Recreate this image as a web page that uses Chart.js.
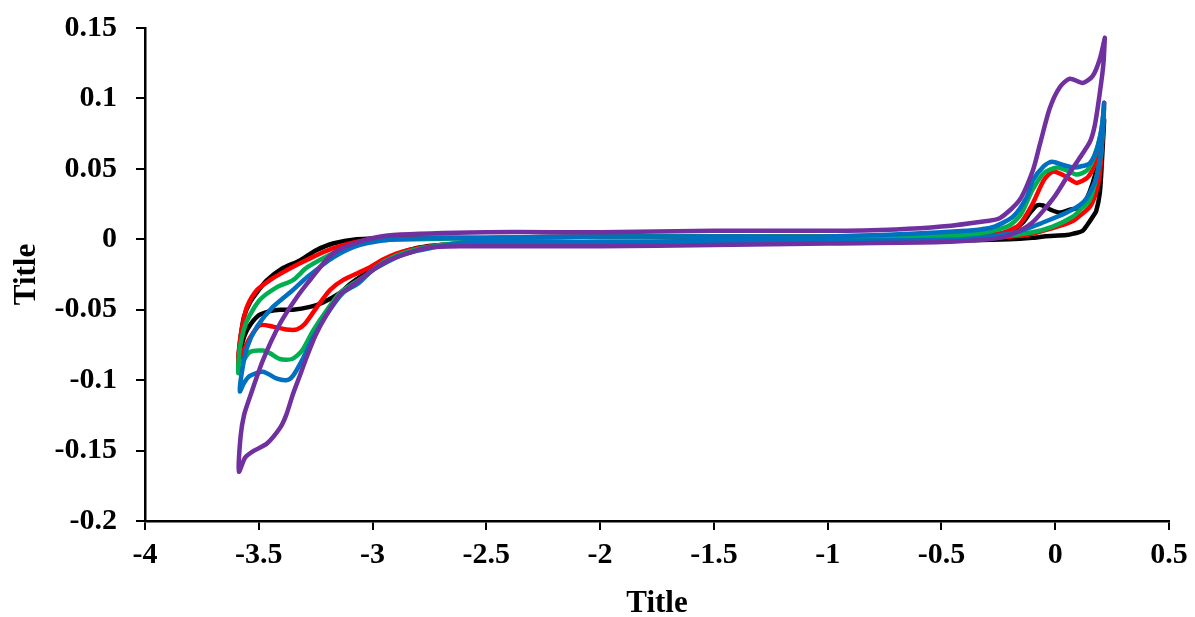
<!DOCTYPE html>
<html>
<head>
<meta charset="utf-8">
<script src="https://cdn.jsdelivr.net/npm/chart.js@4.4.1/dist/chart.umd.min.js"></script>
<style>
  html, body { margin: 0; padding: 0; background: #fff; }
  #wrap { width: 1195px; height: 617px; }
</style>
</head>
<body>
<div id="wrap"><canvas id="cv" width="1195" height="617"></canvas></div>
<script>
// Axis ticks
const xTickLabels = ['-4', '-3.5', '-3', '-2.5', '-2', '-1.5', '-1', '-0.5', '0', '0.5'];
const yTickLabels = ['-0.2', '-0.15', '-0.1', '-0.05', '0', '0.05', '0.1', '0.15'];

// Each loop: [potential, current]
const blackLoop = [
    [0.215, 0.085], [0.205, 0.055], [0.196, 0.033], [0.18, 0.02], [0.165, 0.016], [0.14, 0.01],
    [0.12, 0.006], [0.08, 0.004], [0.05, 0.003], [-0.05, 0.002], [-0.1, 0.001], [-0.2, 0.0],
    [-0.5, -0.001], [-1.0, -0.001], [-1.5, -0.002], [-2.0, -0.002], [-2.5, -0.003], [-2.7, -0.004],
    [-2.8, -0.006], [-2.88, -0.01], [-2.95, -0.017], [-3.02, -0.023], [-3.1, -0.032], [-3.143, -0.038],
    [-3.22, -0.045], [-3.275, -0.048], [-3.35, -0.05], [-3.407, -0.05], [-3.45, -0.051], [-3.5, -0.054],
    [-3.55, -0.064], [-3.575, -0.075], [-3.59, -0.088],
    [-3.58, -0.07], [-3.565, -0.055], [-3.539, -0.045], [-3.5, -0.036], [-3.464, -0.029], [-3.4, -0.021],
    [-3.319, -0.015], [-3.25, -0.008], [-3.174, -0.003], [-3.07, 0.0], [-2.9, 0.001], [-2.5, 0.001],
    [-2.0, 0.002], [-1.5, 0.002], [-1.0, 0.002], [-0.5, 0.002], [-0.3, 0.003], [-0.2, 0.005],
    [-0.142, 0.012], [-0.11, 0.019], [-0.081, 0.024], [-0.054, 0.024], [-0.02, 0.021], [0.02, 0.019],
    [0.064, 0.021], [0.095, 0.022], [0.12, 0.025], [0.139, 0.029], [0.165, 0.04], [0.19, 0.055],
    [0.205, 0.07], [0.215, 0.085]
];

const redLoop = [
    [0.215, 0.097], [0.205, 0.065], [0.195, 0.045], [0.175, 0.031], [0.152, 0.023], [0.11, 0.017],
    [0.077, 0.013], [0.03, 0.01], [-0.011, 0.008], [-0.125, 0.003], [-0.3, 0.001], [-0.5, 0.0],
    [-1.0, -0.001], [-1.5, -0.002], [-2.0, -0.002], [-2.5, -0.002], [-2.7, -0.004], [-2.85, -0.008],
    [-2.95, -0.014], [-3.025, -0.021], [-3.13, -0.029], [-3.187, -0.036], [-3.244, -0.048], [-3.297, -0.06],
    [-3.332, -0.064], [-3.38, -0.064], [-3.438, -0.062], [-3.495, -0.061], [-3.539, -0.07], [-3.57, -0.08],
    [-3.59, -0.088],
    [-3.585, -0.075], [-3.574, -0.063], [-3.552, -0.048], [-3.508, -0.036], [-3.451, -0.029], [-3.4, -0.024],
    [-3.319, -0.017], [-3.2, -0.008], [-3.1, -0.003], [-3.0, 0.0], [-2.5, 0.001], [-2.0, 0.002],
    [-1.5, 0.002], [-1.0, 0.002], [-0.5, 0.003], [-0.25, 0.004], [-0.16, 0.01], [-0.1, 0.025],
    [-0.05, 0.042], [-0.011, 0.048], [0.03, 0.046], [0.07, 0.042], [0.095, 0.04], [0.143, 0.044],
    [0.18, 0.055], [0.205, 0.075], [0.215, 0.097]
];

const greenLoop = [
    [0.215, 0.093], [0.2, 0.06], [0.175, 0.04], [0.152, 0.028], [0.11, 0.021], [0.077, 0.016],
    [-0.011, 0.009], [-0.1, 0.005], [-0.243, 0.002], [-0.5, 0.0], [-1.0, -0.001], [-1.5, -0.002],
    [-2.0, -0.002], [-2.5, -0.002], [-2.7, -0.004], [-2.85, -0.009], [-2.95, -0.016], [-3.025, -0.025],
    [-3.1, -0.033], [-3.143, -0.038], [-3.2, -0.05], [-3.262, -0.065], [-3.31, -0.079], [-3.354, -0.085],
    [-3.407, -0.085], [-3.45, -0.081], [-3.482, -0.079], [-3.539, -0.08], [-3.57, -0.087], [-3.59, -0.095],
    [-3.583, -0.077], [-3.552, -0.058], [-3.495, -0.043], [-3.42, -0.034], [-3.35, -0.029], [-3.288, -0.02],
    [-3.2, -0.012], [-3.143, -0.008], [-3.0, -0.001], [-2.8, 0.0], [-2.5, 0.001], [-2.0, 0.002],
    [-1.5, 0.002], [-1.0, 0.002], [-0.5, 0.003], [-0.3, 0.005], [-0.2, 0.01], [-0.15, 0.018],
    [-0.1, 0.035], [-0.05, 0.047], [0.007, 0.051], [0.05, 0.049], [0.095, 0.046], [0.14, 0.049],
    [0.17, 0.058], [0.2, 0.075], [0.215, 0.093]
];

const blueLoop = [
    [0.215, 0.097], [0.205, 0.068], [0.183, 0.045], [0.152, 0.033], [0.121, 0.026], [0.051, 0.019],
    [-0.068, 0.011], [-0.15, 0.006], [-0.243, 0.003], [-0.4, 0.0], [-1.0, -0.001], [-1.5, -0.001],
    [-2.0, -0.002], [-2.5, -0.002], [-2.63, -0.003], [-2.74, -0.006], [-2.85, -0.01], [-2.91, -0.014],
    [-3.0, -0.022], [-3.06, -0.031], [-3.13, -0.038], [-3.2, -0.053], [-3.262, -0.07], [-3.31, -0.086],
    [-3.35, -0.097], [-3.376, -0.1], [-3.42, -0.099], [-3.482, -0.094], [-3.539, -0.097], [-3.565, -0.102],
    [-3.583, -0.108],
    [-3.575, -0.095], [-3.552, -0.077], [-3.508, -0.062], [-3.438, -0.048], [-3.35, -0.036], [-3.288, -0.027],
    [-3.174, -0.013], [-3.055, -0.004], [-2.9, 0.0], [-2.5, 0.001], [-2.0, 0.002], [-1.5, 0.002],
    [-1.0, 0.002], [-0.5, 0.005], [-0.287, 0.008], [-0.186, 0.016], [-0.125, 0.03], [-0.098, 0.042],
    [-0.05, 0.052], [-0.015, 0.055], [0.03, 0.053], [0.077, 0.051], [0.12, 0.052], [0.152, 0.054],
    [0.183, 0.064], [0.205, 0.08], [0.215, 0.097]
];

const purpleLoop = [
    [0.218, 0.143], [0.212, 0.125], [0.196, 0.104], [0.174, 0.081], [0.152, 0.069], [0.1, 0.056],
    [0.051, 0.044], [0.0, 0.031], [-0.054, 0.02], [-0.1, 0.012], [-0.156, 0.006], [-0.243, 0.001],
    [-0.5, -0.002], [-1.0, -0.003], [-1.5, -0.004], [-2.0, -0.005], [-2.6, -0.005], [-2.76, -0.006],
    [-2.9, -0.013], [-2.954, -0.017], [-3.0, -0.022], [-3.099, -0.034], [-3.143, -0.039], [-3.2, -0.053],
    [-3.25, -0.068], [-3.288, -0.083], [-3.32, -0.097], [-3.35, -0.11], [-3.38, -0.125], [-3.407, -0.134],
    [-3.464, -0.145], [-3.52, -0.15], [-3.56, -0.155], [-3.587, -0.165],
    [-3.58, -0.14], [-3.565, -0.125], [-3.539, -0.112], [-3.482, -0.086], [-3.407, -0.06], [-3.332, -0.041],
    [-3.275, -0.029], [-3.174, -0.01], [-3.042, -0.001], [-2.91, 0.003], [-2.5, 0.005], [-2.0, 0.005],
    [-1.5, 0.006], [-1.0, 0.006], [-0.7, 0.007], [-0.5, 0.009], [-0.3, 0.013], [-0.243, 0.015],
    [-0.156, 0.028], [-0.098, 0.049], [-0.068, 0.067], [-0.024, 0.093], [0.02, 0.108], [0.064, 0.114],
    [0.121, 0.111], [0.165, 0.116], [0.196, 0.128], [0.218, 0.143]
];

const seriesLoops = [blackLoop, redLoop, greenLoop, blueLoop, purpleLoop];
const seriesColors = ['#000000', '#FF0000', '#00B050', '#0070C0', '#7030A0'];

const FONT = "'Liberation Serif', 'Times New Roman', serif";

// later series sit on top, like the original
const datasets = seriesLoops.map((loop, i) => ({
    data: loop.map(p => ({ x: p[0], y: p[1] })),
    order: seriesLoops.length - i,
    borderColor: seriesColors[i],
    backgroundColor: seriesColors[i],
    borderWidth: 4.5,
    pointRadius: 0,
    showLine: true,
    tension: 0.25,
    fill: false,
    borderCapStyle: 'round',
    borderJoinStyle: 'round'
}));

new Chart(document.getElementById('cv'), {
    type: 'scatter',
    data: { datasets },
    options: {
        responsive: false,
        animation: false,
        devicePixelRatio: 1,
        layout: { padding: { top: 28, right: 26, bottom: 0, left: 0 } },
        plugins: {
            legend: { display: false },
            tooltip: { enabled: false }
        },
        scales: {
            x: {
                type: 'linear',
                min: -4,
                max: 0.5,
                afterFit: s => { s.height = 96; },
                ticks: {
                    padding: 7,
                    color: '#000',
                    font: { family: FONT, size: 30, weight: 'bold' },
                    callback: (v, i) => xTickLabels[i]
                },
                afterBuildTicks: s => { s.ticks = xTickLabels.map(t => ({ value: parseFloat(t) })); },
                grid: { drawOnChartArea: false, drawTicks: true, tickLength: 9, color: '#000', lineWidth: 2 },
                border: { display: true, color: '#000', width: 2.5 },
                title: {
                    display: true,
                    text: 'Title',
                    color: '#000',
                    padding: { top: 0, bottom: -2 },
                    font: { family: FONT, size: 31, weight: 'bold', lineHeight: 1 }
                }
            },
            y: {
                type: 'linear',
                min: -0.2,
                max: 0.15,
                afterFit: s => {
                    s.width = 145;
                    s.paddingTop = 10;
                    s.paddingBottom = 10;
                },
                afterBuildTicks: s => { s.ticks = yTickLabels.map(t => ({ value: parseFloat(t) })); },
                ticks: {
                    padding: 19,
                    color: '#000',
                    font: { family: FONT, size: 30, weight: 'bold' },
                    callback: (v, i) => yTickLabels[i]
                },
                grid: { drawOnChartArea: false, drawTicks: true, tickLength: 9, color: '#000', lineWidth: 2 },
                border: { display: true, color: '#000', width: 2.5 },
                title: {
                    display: true,
                    text: 'Title',
                    color: '#000',
                    padding: { top: 11, bottom: 0 },
                    font: { family: FONT, size: 31, weight: 'bold', lineHeight: 1 }
                }
            }
        }
    }
});
</script>
</body>
</html>
